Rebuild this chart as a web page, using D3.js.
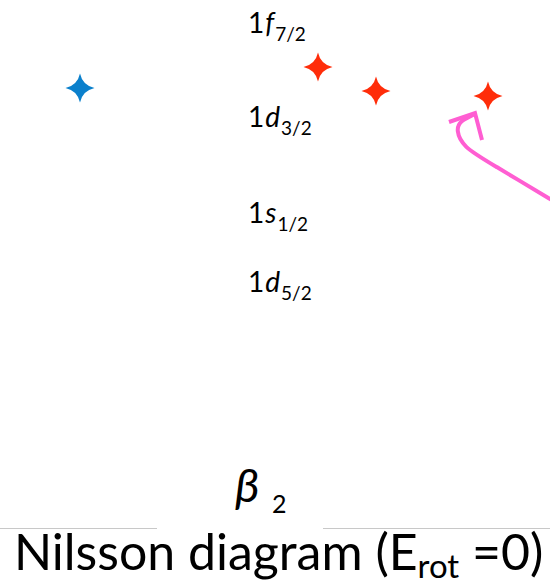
<!DOCTYPE html>
<html>
<head>
<meta charset="utf-8">
<script src="https://cdn.jsdelivr.net/npm/d3@7"></script>
<style>
  html, body { margin: 0; padding: 0; background: #fff; }
  svg { display: block; font-family: Lato, "Open Sans", sans-serif; }
</style>
</head>
<body>
<div id="chart"></div>
<script>
// single-particle levels (label parts + energy, arbitrary units)
var levelMain = ["1", "1", "1", "1"];
var levelL = ["f", "d", "s", "d"];
var levelJ = ["7/2", "3/2", "1/2", "5/2"];
var levelE = [47.7, 38.3, 28.7, 21.8];

// the stars: deformation beta2 and energy
var pointBeta = [-0.195, 0.043, 0.101, 0.213];
var pointE = [42.2, 44.3, 41.9, 41.4];
var pointKind = ["blue", "red", "red", "red"];

// hand drawn arrow pointing at the last star (beta2, energy)
var arrowBeta = [0.285, 0.215, 0.188, 0.181, 0.185, 0.200];
var arrowE = [30.5, 34.7, 36.3, 38.0, 38.9, 39.6];
var arrowHeadBeta = [0.174, 0.200, 0.207];
var arrowHeadE = [38.8, 39.7, 37.0];

var colors = { blue: "#0b80cc", red: "#ff2d0a" };

var w = 550, h = 585;
var svg = d3.select("#chart").append("svg")
  .attr("width", w)
  .attr("height", h);

var x = d3.scaleLinear().domain([-0.25, 0.25]).range([25, 525]);
var y = d3.scaleLinear().domain([0, 50]).range([510, 10]);

// level labels, like 1f_{7/2}
var labelX = 248;
levelE.forEach(function(e, i) {
  var t = svg.append("text")
    .attr("x", labelX)
    .attr("y", y(e))
    .attr("font-size", 28)
    .attr("fill", "#000");
  t.append("tspan").text(levelMain[i]);
  t.append("tspan").attr("dx", 1).attr("font-style", "italic").text(levelL[i]);
  t.append("tspan").attr("dx", 1).attr("dy", 8).attr("font-size", 19).text(levelJ[i]);
});

// four pointed star shape
function starPath(r) {
  var c = r * 0.18;
  return "M0," + (-r) +
    " Q" + c + "," + (-c) + " " + r + ",0" +
    " Q" + c + "," + c + " 0," + r +
    " Q" + (-c) + "," + c + " " + (-r) + ",0" +
    " Q" + (-c) + "," + (-c) + " 0," + (-r) + " Z";
}

svg.selectAll(".star")
  .data(pointBeta)
  .enter().append("path")
  .attr("class", "star")
  .attr("d", starPath(14.5))
  .attr("transform", function(d, i) { return "translate(" + x(d) + "," + y(pointE[i]) + ")"; })
  .attr("fill", function(d, i) { return colors[pointKind[i]]; });

// arrow
var line = d3.line()
  .x(function(d) { return x(d[0]); })
  .y(function(d) { return y(d[1]); })
  .curve(d3.curveBasis);

svg.append("path")
  .attr("d", line(arrowBeta.map(function(b, i) { return [b, arrowE[i]]; })))
  .attr("fill", "none")
  .attr("stroke", "#ff5ed2")
  .attr("stroke-width", 4);

svg.append("path")
  .attr("d", d3.line().x(function(d) { return x(d[0]); }).y(function(d) { return y(d[1]); })
    (arrowHeadBeta.map(function(b, i) { return [b, arrowHeadE[i]]; })))
  .attr("fill", "none")
  .attr("stroke", "#ff5ed2")
  .attr("stroke-width", 4);

// axis label beta_2
svg.append("text")
  .attr("x", 235)
  .attr("y", 502)
  .attr("font-size", 47)
  .attr("font-style", "italic")
  .attr("fill", "#000")
  .text("β");
svg.append("text")
  .attr("x", 272)
  .attr("y", 513)
  .attr("font-size", 25)
  .attr("fill", "#000")
  .text("2");

// thin rules either side of the axis label
svg.append("line").attr("x1", 0).attr("x2", 157).attr("y1", 528.5).attr("y2", 528.5)
  .attr("stroke", "#c8c8c8").attr("stroke-width", 1);
svg.append("line").attr("x1", 323).attr("x2", 550).attr("y1", 528.5).attr("y2", 528.5)
  .attr("stroke", "#c8c8c8").attr("stroke-width", 1);

// title
var title = svg.append("text")
  .attr("x", 14)
  .attr("y", 570)
  .attr("font-size", 50)
  .attr("fill", "#000");
title.append("tspan").text("Nilsson diagram (E");
title.append("tspan").attr("dy", 8).attr("font-size", 33).text("rot");
title.append("tspan").attr("dy", -8).text(" =0)");
</script>
</body>
</html>
